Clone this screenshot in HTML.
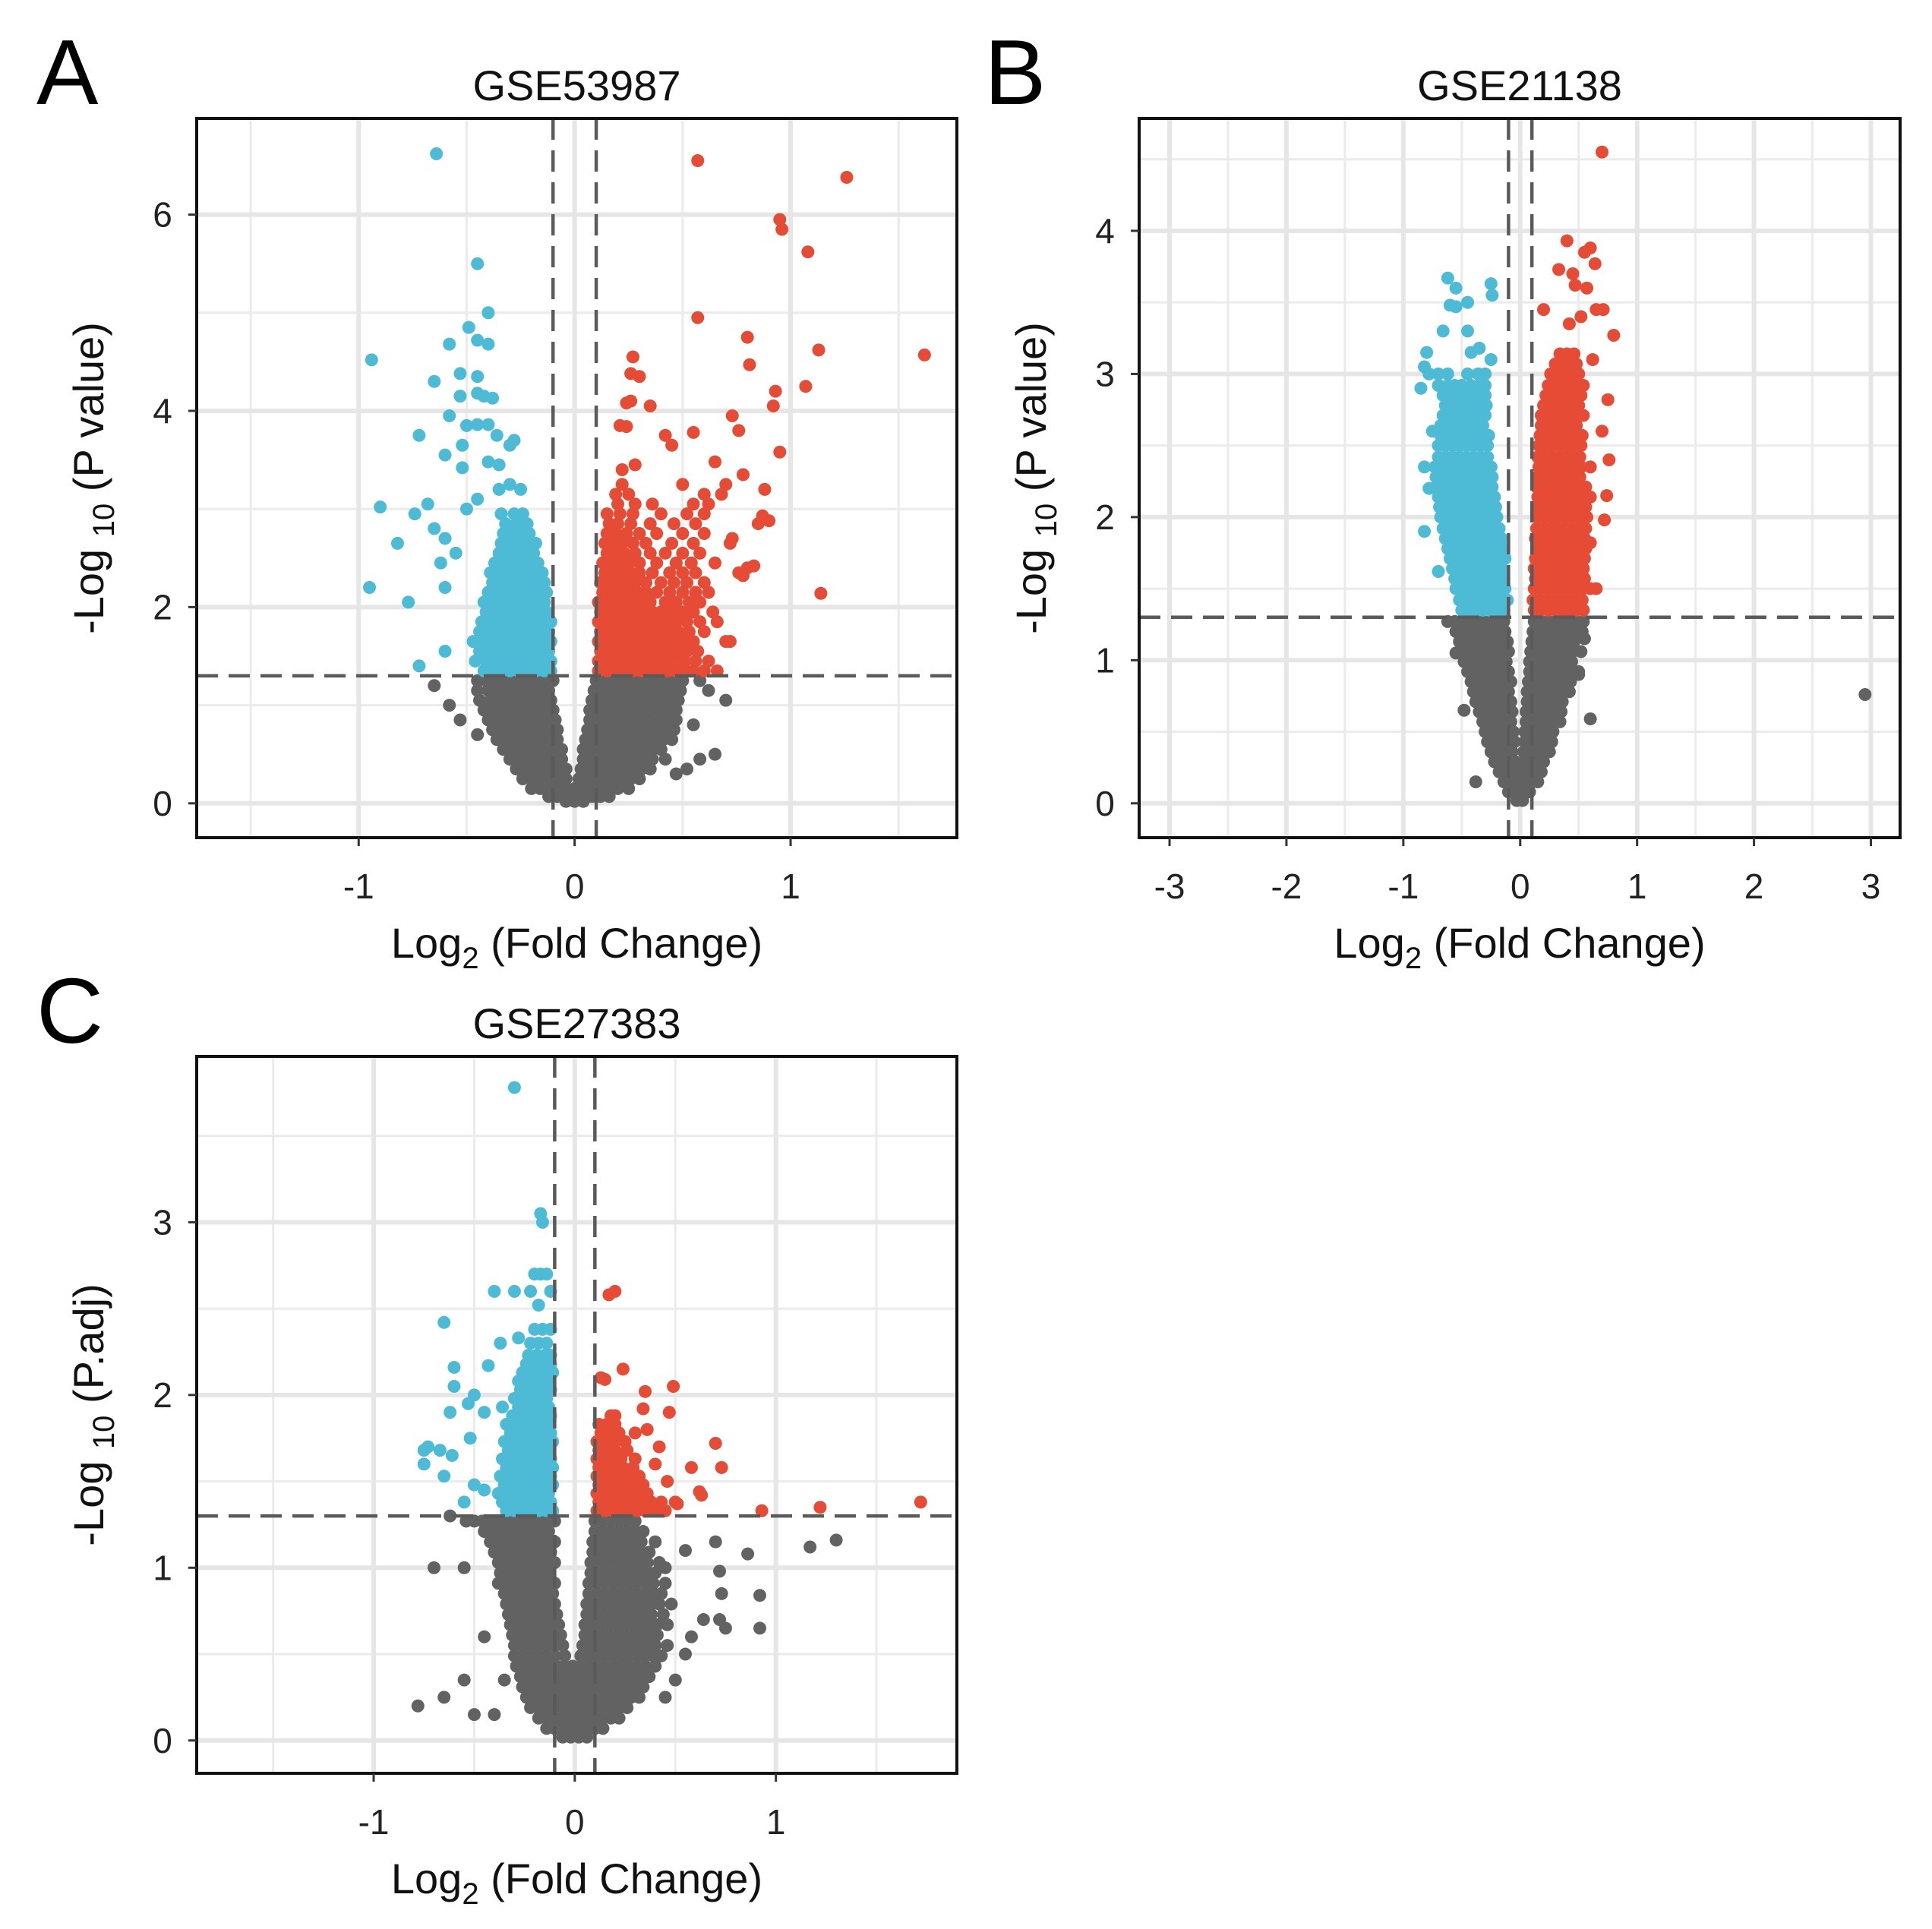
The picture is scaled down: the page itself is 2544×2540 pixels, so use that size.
<!DOCTYPE html>
<html><head><meta charset="utf-8">
<style>
html,body{margin:0;padding:0;background:#fff;}
svg{display:block;font-family:"Liberation Sans",Arial,sans-serif;}
</style></head>
<body>
<svg id="fig" width="2544" height="2540" viewBox="0 0 2544 2540" xmlns="http://www.w3.org/2000/svg"></svg>
<script>
// ---------------- Panel A data (GSE53987) ----------------
const aGrayRowY=[1.25,1.15,1.05,0.95,0.85,0.75,0.65,0.55,0.45,0.35,0.25,0.15,0.07,0.02];
const aGrayRowX=[
[-0.45,-0.41,-0.37,-0.33,-0.29,-0.25,-0.21,-0.17,-0.13,-0.1,0.1,0.14,0.18,0.22,0.26,0.3,0.34,0.38,0.42,0.46,0.5],
[-0.45,-0.4,-0.36,-0.32,-0.28,-0.24,-0.2,-0.16,-0.12,0.09,0.13,0.17,0.21,0.25,0.29,0.33,0.37,0.41,0.45,0.49],
[-0.44,-0.39,-0.35,-0.31,-0.27,-0.23,-0.19,-0.15,-0.11,0.08,0.12,0.16,0.2,0.24,0.28,0.32,0.36,0.4,0.44,0.48],
[-0.42,-0.38,-0.34,-0.3,-0.26,-0.22,-0.18,-0.14,-0.1,0.07,0.11,0.15,0.19,0.23,0.27,0.31,0.35,0.39,0.43,0.47],
[-0.4,-0.36,-0.32,-0.28,-0.24,-0.2,-0.16,-0.12,-0.09,0.07,0.11,0.15,0.19,0.23,0.27,0.31,0.35,0.39,0.43,0.47],
[-0.38,-0.34,-0.3,-0.26,-0.22,-0.18,-0.14,-0.1,-0.08,0.06,0.1,0.14,0.18,0.22,0.26,0.3,0.34,0.38,0.42,0.46],
[-0.36,-0.32,-0.28,-0.24,-0.2,-0.16,-0.12,-0.08,0.05,0.09,0.13,0.17,0.21,0.25,0.29,0.33,0.37,0.41,0.45],
[-0.33,-0.29,-0.25,-0.21,-0.17,-0.13,-0.09,-0.06,0.04,0.08,0.12,0.16,0.2,0.24,0.28,0.32,0.36,0.4],
[-0.3,-0.26,-0.22,-0.18,-0.14,-0.1,-0.06,0.04,0.08,0.12,0.16,0.2,0.24,0.28,0.32,0.36,0.42],
[-0.27,-0.23,-0.19,-0.15,-0.11,-0.07,-0.04,0.03,0.07,0.11,0.15,0.19,0.23,0.27,0.31,0.35],
[-0.24,-0.2,-0.16,-0.12,-0.08,-0.04,0.02,0.06,0.1,0.14,0.18,0.22,0.26,0.3],
[-0.2,-0.16,-0.12,-0.08,-0.04,0,0.04,0.08,0.12,0.16,0.2,0.25],
[-0.12,-0.08,-0.04,0,0.04,0.08,0.12,0.16],
[-0.04,0,0.04]];
const aGrayOut=[[-0.65,1.2],[-0.58,1.0],[-0.53,0.85],[-0.45,0.7],[0.58,1.25],[0.62,1.15],[0.7,1.05],[0.55,0.8],[0.58,0.45],[0.65,0.5],[0.52,0.35],[0.47,0.3]];
const aBlueRowY=[1.35,1.45,1.55,1.65,1.75,1.85,1.95,2.05,2.15,2.25,2.35,2.45,2.55,2.65,2.75,2.85,2.95];
const aBlueRowX=[
[-0.42,-0.38,-0.34,-0.3,-0.26,-0.22,-0.18,-0.14,-0.11],
[-0.46,-0.41,-0.37,-0.33,-0.29,-0.25,-0.21,-0.17,-0.13,-0.11],
[-0.44,-0.4,-0.36,-0.32,-0.28,-0.24,-0.2,-0.16,-0.12],
[-0.47,-0.42,-0.38,-0.34,-0.3,-0.26,-0.22,-0.18,-0.14,-0.11],
[-0.44,-0.4,-0.36,-0.32,-0.28,-0.24,-0.2,-0.16,-0.12],
[-0.43,-0.38,-0.34,-0.3,-0.26,-0.22,-0.18,-0.14,-0.11],
[-0.41,-0.37,-0.33,-0.29,-0.25,-0.21,-0.17,-0.13],
[-0.42,-0.38,-0.34,-0.3,-0.26,-0.22,-0.18,-0.14],
[-0.4,-0.36,-0.32,-0.28,-0.24,-0.2,-0.16,-0.13],
[-0.38,-0.34,-0.3,-0.26,-0.22,-0.18,-0.14],
[-0.39,-0.35,-0.31,-0.27,-0.23,-0.19,-0.15],
[-0.37,-0.33,-0.29,-0.25,-0.21,-0.17],
[-0.35,-0.31,-0.27,-0.23,-0.19],
[-0.34,-0.3,-0.26,-0.22,-0.18],
[-0.33,-0.29,-0.25,-0.21],
[-0.32,-0.27,-0.22],
[-0.34,-0.28,-0.24]];
const aBlueOut=[[-0.64,6.62],[-0.45,5.5],[-0.4,5.0],[-0.49,4.85],[-0.58,4.68],[-0.45,4.72],[-0.4,4.68],[-0.94,4.52],[-0.65,4.3],[-0.53,4.38],[-0.45,4.35],[-0.45,4.18],[-0.42,4.15],[-0.38,4.13],[-0.53,4.15],[-0.58,3.95],[-0.72,3.75],[-0.5,3.85],[-0.45,3.86],[-0.4,3.86],[-0.52,3.65],[-0.6,3.55],[-0.36,3.75],[-0.28,3.7],[-0.3,3.65],[-0.52,3.42],[-0.4,3.48],[-0.35,3.45],[-0.9,3.02],[-0.68,3.05],[-0.74,2.95],[-0.82,2.65],[-0.95,2.2],[-0.77,2.05],[-0.62,2.45],[-0.6,2.2],[-0.72,1.4],[-0.6,1.55],[-0.65,2.8],[-0.6,2.7],[-0.55,2.55],[-0.5,3.0],[-0.45,3.1],[-0.35,3.2],[-0.3,3.25],[-0.25,3.2]];
const aRedRowY=[1.35,1.45,1.55,1.65,1.75,1.85,1.95,2.05,2.15,2.25,2.35,2.45,2.55,2.65,2.75,2.85,2.95,3.05,3.15,3.25];
const aRedRowX=[
[0.11,0.15,0.19,0.23,0.27,0.31,0.35,0.39,0.43,0.47,0.51,0.55,0.6,0.66],
[0.11,0.15,0.19,0.23,0.27,0.31,0.35,0.39,0.43,0.47,0.51,0.56,0.62],
[0.12,0.16,0.2,0.24,0.28,0.32,0.36,0.4,0.44,0.48,0.52,0.57],
[0.11,0.15,0.19,0.23,0.27,0.31,0.35,0.39,0.43,0.47,0.51,0.55,0.7],
[0.12,0.16,0.2,0.24,0.28,0.32,0.36,0.4,0.44,0.48,0.53,0.6],
[0.11,0.15,0.19,0.23,0.27,0.31,0.35,0.39,0.43,0.47,0.52,0.58,0.66],
[0.12,0.16,0.2,0.24,0.28,0.32,0.36,0.4,0.45,0.5,0.55,0.64],
[0.11,0.15,0.19,0.23,0.27,0.31,0.35,0.42,0.47,0.53,0.58],
[0.13,0.17,0.21,0.25,0.29,0.33,0.38,0.44,0.5,0.56,0.62],
[0.12,0.16,0.2,0.24,0.28,0.33,0.4,0.46,0.52,0.6],
[0.14,0.18,0.22,0.26,0.3,0.36,0.44,0.5,0.56,0.76],
[0.13,0.17,0.21,0.25,0.3,0.38,0.47,0.54,0.65],
[0.15,0.19,0.23,0.28,0.35,0.42,0.5,0.58],
[0.14,0.18,0.22,0.27,0.33,0.45,0.55,0.72],
[0.15,0.19,0.24,0.3,0.38,0.5,0.6],
[0.16,0.2,0.26,0.35,0.46,0.56,0.85],
[0.15,0.21,0.27,0.4,0.52,0.6],
[0.2,0.28,0.36,0.55,0.62],
[0.19,0.25,0.6,0.68],
[0.22,0.5,0.7]];
const aRedOut=[[0.57,6.55],[1.26,6.38],[0.95,5.95],[0.96,5.85],[1.08,5.62],[0.57,4.95],[0.8,4.75],[0.81,4.47],[0.27,4.55],[0.26,4.38],[0.3,4.35],[0.24,4.08],[0.26,4.1],[0.35,4.05],[1.13,4.62],[1.62,4.57],[1.07,4.25],[0.93,4.2],[0.92,4.05],[0.73,3.95],[0.55,3.78],[0.76,3.8],[0.42,3.75],[0.45,3.65],[0.21,3.85],[0.24,3.84],[0.65,3.48],[0.95,3.58],[0.78,3.35],[0.22,3.4],[0.28,3.45],[0.88,3.2],[0.87,2.93],[0.9,2.88],[0.8,2.4],[0.83,2.42],[0.73,2.7],[1.14,2.14],[0.78,2.32],[0.72,1.65]];

// ---------------- Panel B data (GSE21138) ----------------
const bGrayRowY=[1.27,1.2,1.13,1.06,0.99,0.92,0.85,0.78,0.71,0.64,0.57,0.5,0.43,0.36,0.29,0.22,0.15,0.08,0.02];
const bGrayRowX=[
[-0.62,-0.56,-0.5,-0.44,-0.38,-0.32,-0.26,-0.2,-0.14,0.12,0.18,0.24,0.3,0.36,0.42,0.48,0.54],
[-0.55,-0.49,-0.43,-0.37,-0.31,-0.25,-0.19,-0.13,0.11,0.17,0.23,0.29,0.35,0.41,0.47,0.53],
[-0.52,-0.46,-0.4,-0.34,-0.28,-0.22,-0.16,-0.11,0.1,0.16,0.22,0.28,0.34,0.4,0.46],
[-0.5,-0.44,-0.38,-0.32,-0.26,-0.2,-0.14,-0.1,0.09,0.15,0.21,0.27,0.33,0.39,0.45,0.52],
[-0.48,-0.42,-0.36,-0.3,-0.24,-0.18,-0.12,0.08,0.14,0.2,0.26,0.32,0.38,0.44],
[-0.45,-0.39,-0.33,-0.27,-0.21,-0.15,-0.1,0.08,0.14,0.2,0.26,0.32,0.38,0.44,0.5],
[-0.42,-0.36,-0.3,-0.24,-0.18,-0.12,-0.08,0.07,0.13,0.19,0.25,0.31,0.37,0.43],
[-0.4,-0.34,-0.28,-0.22,-0.16,-0.1,0.06,0.12,0.18,0.24,0.3,0.36,0.42],
[-0.38,-0.32,-0.26,-0.2,-0.14,-0.08,0.06,0.12,0.18,0.24,0.3,0.36],
[-0.35,-0.29,-0.23,-0.17,-0.11,-0.07,0.05,0.11,0.17,0.23,0.29,0.35],
[-0.32,-0.26,-0.2,-0.14,-0.08,0.05,0.11,0.17,0.23,0.29,0.34],
[-0.3,-0.24,-0.18,-0.12,-0.06,0.04,0.1,0.16,0.22,0.28],
[-0.28,-0.22,-0.16,-0.1,-0.05,0.04,0.1,0.16,0.22,0.27],
[-0.25,-0.19,-0.13,-0.07,0.03,0.09,0.15,0.21,0.25],
[-0.22,-0.16,-0.1,-0.04,0.03,0.09,0.15,0.2],
[-0.18,-0.12,-0.06,0,0.06,0.12,0.18],
[-0.14,-0.08,-0.02,0.04,0.1,0.15],
[-0.1,-0.04,0.02,0.08],
[-0.03,0.02]];
const bGrayOut=[[2.95,0.76],[0.6,0.59],[-0.48,0.65],[-0.38,0.15],[0.5,0.9],[-0.55,1.05],[0.55,1.15]];
const bBlueRowY=[1.35,1.42,1.5,1.57,1.64,1.71,1.78,1.85,1.92,2.0,2.07,2.14,2.21,2.28,2.35,2.42,2.5,2.57,2.64,2.71,2.78,2.85,2.92,3.0];
const bBlueRowX=[
[-0.5,-0.44,-0.38,-0.32,-0.26,-0.2,-0.14],
[-0.52,-0.46,-0.4,-0.34,-0.28,-0.22,-0.16,-0.11],
[-0.55,-0.49,-0.43,-0.37,-0.31,-0.25,-0.19,-0.13],
[-0.56,-0.5,-0.44,-0.38,-0.32,-0.26,-0.2,-0.14],
[-0.58,-0.52,-0.46,-0.4,-0.34,-0.28,-0.22,-0.16],
[-0.6,-0.54,-0.48,-0.42,-0.36,-0.3,-0.24,-0.18,-0.13],
[-0.62,-0.56,-0.5,-0.44,-0.38,-0.32,-0.26,-0.2,-0.14],
[-0.64,-0.58,-0.52,-0.46,-0.4,-0.34,-0.28,-0.22,-0.16],
[-0.66,-0.6,-0.54,-0.48,-0.42,-0.36,-0.3,-0.24,-0.18],
[-0.68,-0.62,-0.56,-0.5,-0.44,-0.38,-0.32,-0.26,-0.2],
[-0.69,-0.63,-0.57,-0.51,-0.45,-0.39,-0.33,-0.27,-0.21],
[-0.7,-0.64,-0.58,-0.52,-0.46,-0.4,-0.34,-0.28,-0.22],
[-0.72,-0.66,-0.6,-0.54,-0.48,-0.42,-0.36,-0.3,-0.24],
[-0.72,-0.66,-0.6,-0.54,-0.48,-0.42,-0.36,-0.3,-0.24],
[-0.73,-0.67,-0.61,-0.55,-0.49,-0.43,-0.37,-0.31,-0.25],
[-0.7,-0.64,-0.58,-0.52,-0.46,-0.4,-0.34,-0.28],
[-0.7,-0.64,-0.58,-0.52,-0.46,-0.4,-0.34,-0.28],
[-0.68,-0.62,-0.56,-0.5,-0.44,-0.38,-0.32,-0.27],
[-0.68,-0.62,-0.56,-0.5,-0.44,-0.38,-0.32],
[-0.66,-0.6,-0.54,-0.48,-0.42,-0.36,-0.3],
[-0.64,-0.58,-0.52,-0.46,-0.4,-0.34,-0.29],
[-0.66,-0.6,-0.54,-0.48,-0.42,-0.36,-0.3],
[-0.7,-0.62,-0.56,-0.5,-0.42,-0.35,-0.3],
[-0.78,-0.7,-0.62,-0.45,-0.36,-0.3]];
const bBlueOut=[[-0.62,3.67],[-0.55,3.6],[-0.6,3.48],[-0.55,3.47],[-0.45,3.5],[-0.25,3.63],[-0.24,3.55],[-0.45,3.3],[-0.66,3.3],[-0.8,3.15],[-0.82,3.05],[-0.42,3.15],[-0.35,3.18],[-0.25,3.1],[-0.82,2.35],[-0.78,2.2],[-0.82,1.9],[-0.7,1.62],[-0.85,2.9],[-0.75,2.6]];
const bRedRowY=[1.35,1.42,1.5,1.57,1.64,1.71,1.78,1.85,1.92,2.0,2.07,2.14,2.21,2.28,2.35,2.42,2.5,2.57,2.64,2.71,2.78,2.85,2.92,3.0,3.07,3.14];
const bRedRowX=[
[0.12,0.18,0.24,0.3,0.36,0.42,0.48,0.54],
[0.11,0.17,0.23,0.29,0.35,0.41,0.47,0.53],
[0.12,0.18,0.24,0.3,0.36,0.42,0.48,0.54,0.6],
[0.13,0.19,0.25,0.31,0.37,0.43,0.49,0.55],
[0.12,0.18,0.24,0.3,0.36,0.42,0.48,0.54],
[0.13,0.19,0.25,0.31,0.37,0.43,0.49,0.55],
[0.14,0.2,0.26,0.32,0.38,0.44,0.5,0.56],
[0.13,0.19,0.25,0.31,0.37,0.43,0.49,0.55],
[0.14,0.2,0.26,0.32,0.38,0.44,0.5,0.56],
[0.15,0.21,0.27,0.33,0.39,0.45,0.51,0.57],
[0.14,0.2,0.26,0.32,0.38,0.44,0.5,0.56],
[0.15,0.21,0.27,0.33,0.39,0.45,0.51,0.6],
[0.14,0.2,0.26,0.32,0.38,0.44,0.5,0.56],
[0.15,0.21,0.27,0.33,0.39,0.45,0.51],
[0.16,0.22,0.28,0.34,0.4,0.46,0.52,0.6],
[0.15,0.21,0.27,0.33,0.39,0.45,0.51],
[0.16,0.22,0.28,0.34,0.4,0.46,0.52],
[0.17,0.23,0.29,0.35,0.41,0.47,0.53],
[0.18,0.24,0.3,0.36,0.42,0.48],
[0.18,0.24,0.3,0.36,0.42,0.48,0.54],
[0.2,0.26,0.32,0.38,0.44,0.5],
[0.22,0.28,0.34,0.4,0.46,0.52],
[0.24,0.3,0.36,0.42,0.48,0.54],
[0.26,0.32,0.38,0.44,0.5],
[0.3,0.36,0.42,0.48],
[0.34,0.4,0.46]];
const bRedOut=[[0.7,4.55],[0.4,3.93],[0.6,3.88],[0.55,3.85],[0.64,3.77],[0.33,3.73],[0.45,3.7],[0.47,3.62],[0.57,3.6],[0.2,3.45],[0.65,3.45],[0.71,3.45],[0.8,3.27],[0.52,3.4],[0.42,3.35],[0.62,3.1],[0.75,2.82],[0.76,2.4],[0.74,2.15],[0.72,1.98],[0.65,1.5],[0.6,1.82],[0.7,2.6]];

// ---------------- Panel C data (GSE27383) ----------------
const cGrayRowY=[1.27,1.21,1.15,1.09,1.03,0.97,0.91,0.85,0.79,0.73,0.67,0.61,0.55,0.49,0.43,0.37,0.31,0.25,0.19,0.13,0.07,0.02];
const cGrayRowX=[
[-0.54,-0.5,-0.46,-0.42,-0.38,-0.34,-0.3,-0.26,-0.22,-0.18,-0.14,-0.1,0.1,0.14,0.18,0.22,0.26,0.3],
[-0.45,-0.41,-0.37,-0.33,-0.29,-0.25,-0.21,-0.17,-0.13,0.1,0.14,0.18,0.22,0.26,0.3,0.34],
[-0.42,-0.38,-0.34,-0.3,-0.26,-0.22,-0.18,-0.14,-0.1,0.09,0.13,0.17,0.21,0.25,0.29,0.33,0.4],
[-0.4,-0.36,-0.32,-0.28,-0.24,-0.2,-0.16,-0.12,0.09,0.13,0.17,0.21,0.25,0.29,0.33,0.37],
[-0.38,-0.34,-0.3,-0.26,-0.22,-0.18,-0.14,-0.1,0.08,0.12,0.16,0.2,0.24,0.28,0.32,0.36,0.42],
[-0.37,-0.33,-0.29,-0.25,-0.21,-0.17,-0.13,0.08,0.12,0.16,0.2,0.24,0.28,0.32,0.36,0.4],
[-0.38,-0.34,-0.3,-0.26,-0.22,-0.18,-0.14,-0.1,0.07,0.11,0.15,0.19,0.23,0.27,0.31,0.35,0.39,0.45],
[-0.35,-0.31,-0.27,-0.23,-0.19,-0.15,-0.11,0.07,0.11,0.15,0.19,0.23,0.27,0.31,0.35,0.39,0.43],
[-0.34,-0.3,-0.26,-0.22,-0.18,-0.14,-0.1,0.06,0.1,0.14,0.18,0.22,0.26,0.3,0.34,0.38,0.42,0.48],
[-0.33,-0.29,-0.25,-0.21,-0.17,-0.13,-0.09,0.06,0.1,0.14,0.18,0.22,0.26,0.3,0.34,0.38,0.44],
[-0.32,-0.28,-0.24,-0.2,-0.16,-0.12,-0.08,0.05,0.09,0.13,0.17,0.21,0.25,0.29,0.33,0.37,0.41,0.46],
[-0.31,-0.27,-0.23,-0.19,-0.15,-0.11,-0.07,0.05,0.09,0.13,0.17,0.21,0.25,0.29,0.33,0.37,0.41],
[-0.3,-0.26,-0.22,-0.18,-0.14,-0.1,-0.06,0.04,0.08,0.12,0.16,0.2,0.24,0.28,0.32,0.36,0.4,0.46],
[-0.3,-0.26,-0.22,-0.18,-0.14,-0.1,-0.05,0.03,0.07,0.11,0.15,0.19,0.23,0.27,0.31,0.35,0.39,0.43],
[-0.29,-0.25,-0.21,-0.17,-0.13,-0.09,-0.05,-0.01,0.03,0.07,0.11,0.15,0.19,0.23,0.27,0.31,0.35,0.4],
[-0.27,-0.23,-0.19,-0.15,-0.11,-0.07,-0.03,0.01,0.05,0.09,0.13,0.17,0.21,0.25,0.29,0.33,0.37],
[-0.26,-0.22,-0.18,-0.14,-0.1,-0.06,-0.02,0.02,0.06,0.1,0.14,0.18,0.22,0.26,0.3,0.34],
[-0.24,-0.2,-0.16,-0.12,-0.08,-0.04,0,0.04,0.08,0.12,0.16,0.2,0.24,0.28,0.32],
[-0.22,-0.18,-0.14,-0.1,-0.06,-0.02,0.02,0.06,0.1,0.14,0.18,0.22,0.26],
[-0.18,-0.14,-0.1,-0.06,-0.02,0.02,0.06,0.1,0.14,0.18,0.22],
[-0.14,-0.1,-0.06,-0.02,0.02,0.06,0.1,0.14],
[-0.06,-0.02,0.02,0.06]];
const cGrayOut=[[-0.7,1.0],[-0.55,1.0],[-0.62,1.3],[-0.45,0.6],[-0.78,0.2],[-0.65,0.25],[-0.55,0.35],[-0.5,0.15],[-0.4,0.15],[-0.35,0.35],[0.55,1.1],[0.45,1.0],[0.7,1.15],[0.72,0.98],[0.73,0.85],[0.64,0.7],[0.72,0.7],[0.75,0.65],[0.86,1.08],[0.92,0.84],[0.92,0.65],[1.17,1.12],[1.3,1.16],[0.58,0.6],[0.55,0.5],[0.5,0.35],[0.45,0.25]];
const cBlueRowY=[1.33,1.38,1.43,1.48,1.53,1.58,1.63,1.68,1.73,1.78,1.83,1.88,1.93,1.98,2.03,2.08,2.13,2.18,2.23,2.3,2.38];
const cBlueRowX=[
[-0.34,-0.3,-0.26,-0.22,-0.18,-0.14,-0.11],
[-0.36,-0.32,-0.28,-0.24,-0.2,-0.16,-0.12],
[-0.38,-0.33,-0.29,-0.25,-0.21,-0.17,-0.13],
[-0.35,-0.31,-0.27,-0.23,-0.19,-0.15,-0.11],
[-0.37,-0.32,-0.28,-0.24,-0.2,-0.16,-0.12],
[-0.34,-0.3,-0.26,-0.22,-0.18,-0.14,-0.11],
[-0.36,-0.31,-0.27,-0.23,-0.19,-0.15,-0.12],
[-0.33,-0.29,-0.25,-0.21,-0.17,-0.13],
[-0.35,-0.3,-0.26,-0.22,-0.18,-0.14,-0.11],
[-0.32,-0.28,-0.24,-0.2,-0.16,-0.12],
[-0.34,-0.29,-0.25,-0.21,-0.17,-0.13],
[-0.31,-0.27,-0.23,-0.19,-0.15,-0.12],
[-0.36,-0.28,-0.24,-0.2,-0.16,-0.13],
[-0.3,-0.26,-0.22,-0.18,-0.14],
[-0.27,-0.23,-0.19,-0.15,-0.12],
[-0.28,-0.24,-0.2,-0.16,-0.13],
[-0.26,-0.22,-0.18,-0.14,-0.11],
[-0.24,-0.2,-0.16,-0.12],
[-0.23,-0.19,-0.15,-0.12],
[-0.22,-0.18,-0.14],
[-0.2,-0.16,-0.12]];
const cBlueOut=[[-0.3,3.78],[-0.17,3.05],[-0.16,3.0],[-0.2,2.7],[-0.17,2.7],[-0.14,2.7],[-0.4,2.6],[-0.3,2.6],[-0.22,2.6],[-0.12,2.6],[-0.18,2.52],[-0.65,2.42],[-0.28,2.33],[-0.37,2.3],[-0.43,2.17],[-0.6,2.16],[-0.6,2.05],[-0.5,2.0],[-0.53,1.95],[-0.62,1.9],[-0.45,1.9],[-0.75,1.68],[-0.73,1.7],[-0.67,1.68],[-0.75,1.6],[-0.61,1.65],[-0.52,1.75],[-0.65,1.53],[-0.5,1.48],[-0.55,1.38],[-0.45,1.45]];
const cRedRowY=[1.33,1.38,1.43,1.48,1.53,1.58,1.63,1.68,1.73,1.78,1.83];
const cRedRowX=[
[0.11,0.15,0.19,0.23,0.27,0.31,0.35,0.4,0.45],
[0.12,0.16,0.2,0.24,0.28,0.32,0.38,0.43,0.5],
[0.11,0.15,0.19,0.23,0.27,0.31,0.36],
[0.12,0.16,0.2,0.24,0.28,0.34],
[0.11,0.15,0.19,0.23,0.27,0.32],
[0.12,0.16,0.2,0.24,0.29],
[0.11,0.15,0.19,0.23,0.3],
[0.12,0.16,0.2,0.26],
[0.11,0.15,0.2,0.25],
[0.13,0.17,0.22,0.3],
[0.12,0.16,0.2]];
const cRedOut=[[0.17,2.58],[0.2,2.6],[0.13,2.1],[0.15,2.09],[0.24,2.15],[0.35,2.02],[0.49,2.05],[0.47,1.9],[0.34,1.92],[0.18,1.88],[0.2,1.88],[0.42,1.7],[0.36,1.8],[0.7,1.72],[0.73,1.58],[0.58,1.58],[0.62,1.44],[0.63,1.42],[0.46,1.5],[0.51,1.37],[0.93,1.33],[1.22,1.35],[1.72,1.38],[0.4,1.6]];

// ---------------- tick labels ----------------
const aXTicks=[-1,0,1], aYTicks=[0,2,4,6];
const bXTicks=[-3,-2,-1,0,1,2,3], bYTicks=[0,1,2,3,4];
const cXTicks=[-1,0,1], cYTicks=[0,1,2,3];

const NS="http://www.w3.org/2000/svg";
const svg=document.getElementById('fig');
function mk(tag,attrs,parent){const e=document.createElementNS(NS,tag);for(const k in attrs)e.setAttribute(k,attrs[k]);(parent||svg).appendChild(e);return e;}

function panel(cfg){
  const g=mk('g',{});
  
  
  const [L,T,R,B]=cfg.box;
  const sx=v=>L+(v-cfg.xd[0])/(cfg.xd[1]-cfg.xd[0])*(R-L);
  const sy=v=>B-(v-cfg.yd[0])/(cfg.yd[1]-cfg.yd[0])*(B-T);
  const clipId='clip-'+cfg.id;
  const defs=mk('defs',{},g);const cp=mk('clipPath',{id:clipId},defs);mk('rect',{x:L,y:T,width:R-L,height:B-T},cp);
  cfg.xMinor.forEach(v=>{const l=mk('line',{x1:sx(v),x2:sx(v),y1:T,y2:B,stroke:'#ebebeb','stroke-width':3},g);});
  cfg.yMinor.forEach(v=>{const l=mk('line',{x1:L,x2:R,y1:sy(v),y2:sy(v),stroke:'#ebebeb','stroke-width':3},g);});
  cfg.xTicks.forEach(v=>{const l=mk('line',{x1:sx(v),x2:sx(v),y1:T,y2:B,stroke:'#e6e6e6','stroke-width':6},g);});
  cfg.yTicks.forEach(v=>{const l=mk('line',{x1:L,x2:R,y1:sy(v),y2:sy(v),stroke:'#e6e6e6','stroke-width':6},g);});
  const pts=mk('g',{'clip-path':'url(#'+clipId+')'},g);
  
  
  function drawSeries(rowsY,rowsX,out,color,name){
    const sg=mk('g',{fill:color},pts);
    
    
    rowsY.forEach((y,i)=>rowsX[i].forEach(x=>{const c=mk('circle',{cx:sx(x),cy:sy(y),r:8.5},sg);}));
    out.forEach(p=>{const c=mk('circle',{cx:sx(p[0]),cy:sy(p[1]),r:8.5},sg);});
  }
  drawSeries(cfg.gray[0],cfg.gray[1],cfg.gray[2],'#626262','not-significant-points');
  drawSeries(cfg.blue[0],cfg.blue[1],cfg.blue[2],'#4DBBD5','down-regulated-points');
  drawSeries(cfg.red[0],cfg.red[1],cfg.red[2],'#E64B35','up-regulated-points');
  const dash={stroke:'#5a5a5a','stroke-width':4.5,'stroke-dasharray':'28 14',fill:'none'};
  [-0.1,0.1].forEach(v=>{const l=mk('line',Object.assign({x1:sx(v),x2:sx(v),y1:T,y2:B},dash),g);});
  const h=mk('line',Object.assign({x1:L,x2:R,y1:sy(1.3),y2:sy(1.3)},dash),g);
  
  
  const bd=mk('rect',{x:L,y:T,width:R-L,height:B-T,fill:'none',stroke:'#111','stroke-width':4},g);
  
  
  cfg.xTicks.forEach(v=>{
    const t=mk('line',{x1:sx(v),x2:sx(v),y1:B,y2:B+11,stroke:'#333','stroke-width':3},g);
    
    const tx=mk('text',{x:sx(v),y:B+80,'text-anchor':'middle','font-size':46,fill:'#222'},g);
    
    tx.textContent=String(v);
  });
  cfg.yTicks.forEach(v=>{
    const t=mk('line',{x1:L-11,x2:L,y1:sy(v),y2:sy(v),stroke:'#333','stroke-width':3},g);
    
    const tx=mk('text',{x:L-45,y:sy(v)+16,'text-anchor':'middle','font-size':46,fill:'#222'},g);
    
    tx.textContent=String(v);
  });
  const ti=mk('text',{x:(L+R)/2,y:T-24,'text-anchor':'middle','font-size':56,fill:'#111'},g);
  
  ti.textContent=cfg.title;
  const xl=mk('text',{x:(L+R)/2,y:B+158,'text-anchor':'middle','font-size':56,fill:'#111'},g);
  
  xl.innerHTML='Log<tspan font-size="40" dy="14">2</tspan><tspan dy="-14"> (Fold Change)</tspan>';
  const cy=(T+B)/2;
  const yl=mk('text',{x:0,y:0,'text-anchor':'middle','font-size':56,fill:'#111',transform:'translate('+(L-123)+','+cy+') rotate(-90)'},g);
  
  yl.innerHTML='-Log <tspan font-size="40" dy="14">10</tspan><tspan dy="-14"> '+cfg.ylab+'</tspan>';
  const lt=mk('text',{x:cfg.letter[0],y:cfg.letter[1],'font-size':122,fill:'#000'},g);
  
  lt.textContent=cfg.id.toUpperCase();
}

panel({id:'a',title:'GSE53987',ylab:'(P value)',box:[259,156,1260,1103],xd:[-1.75,1.77],yd:[-0.35,6.98],
  xTicks:aXTicks,yTicks:aYTicks,xMinor:[-1.5,-0.5,0.5,1.5],yMinor:[1,3,5],
  gray:[aGrayRowY,aGrayRowX,aGrayOut],blue:[aBlueRowY,aBlueRowX,aBlueOut],red:[aRedRowY,aRedRowX,aRedOut],letter:[48,137]});
panel({id:'b',title:'GSE21138',ylab:'(P value)',box:[1500,156,2502,1103],xd:[-3.26,3.25],yd:[-0.24,4.785],
  xTicks:bXTicks,yTicks:bYTicks,xMinor:[-2.5,-1.5,-0.5,0.5,1.5,2.5],yMinor:[0.5,1.5,2.5,3.5,4.5],
  gray:[bGrayRowY,bGrayRowX,bGrayOut],blue:[bBlueRowY,bBlueRowX,bBlueOut],red:[bRedRowY,bRedRowX,bRedOut],letter:[1296,137]});
panel({id:'c',title:'GSE27383',ylab:'(P.adj)',box:[259,1391,1260,2335],xd:[-1.88,1.90],yd:[-0.19,3.96],
  xTicks:cXTicks,yTicks:cYTicks,xMinor:[-1.5,-0.5,0.5,1.5],yMinor:[0.5,1.5,2.5,3.5],
  gray:[cGrayRowY,cGrayRowX,cGrayOut],blue:[cBlueRowY,cBlueRowX,cBlueOut],red:[cRedRowY,cRedRowX,cRedOut],letter:[48,1373]});
</script>
</body></html>
